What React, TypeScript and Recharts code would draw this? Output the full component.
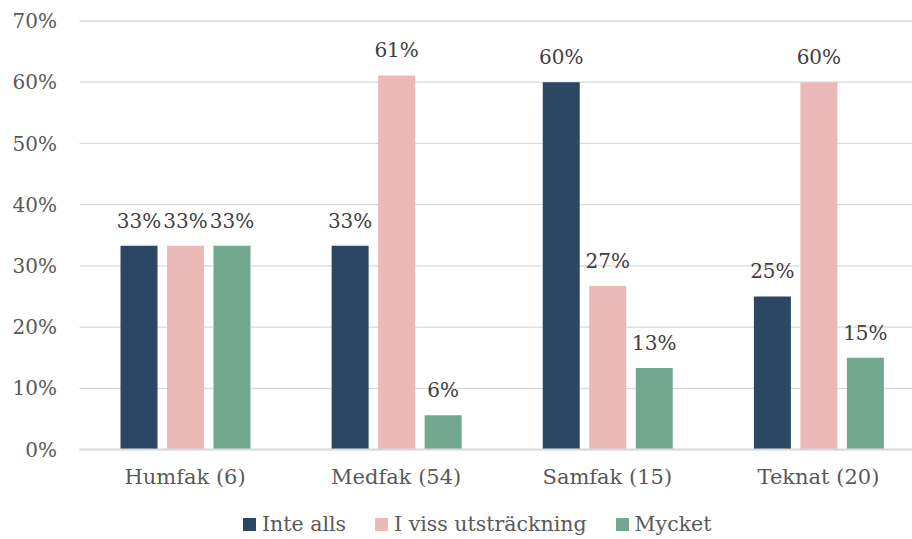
import React from 'react'
import { BarChart, Bar, XAxis, YAxis, CartesianGrid, LabelList, Legend } from 'recharts'

const categories = ['Humfak (6)', 'Medfak (54)', 'Samfak (15)', 'Teknat (20)']
const inteAlls = [33.3, 33.3, 60.0, 25.0]
const iVissUtstrackning = [33.3, 61.1, 26.7, 60.0]
const mycket = [33.3, 5.6, 13.3, 15.0]
const yTicks = [0, 10, 20, 30, 40, 50, 60, 70]

const series = [
  { key: 'inte', name: 'Inte alls', color: '#2b4764', values: inteAlls },
  { key: 'viss', name: 'I viss utsträckning', color: '#eab9b8', values: iVissUtstrackning },
  { key: 'mycket', name: 'Mycket', color: '#72a88f', values: mycket },
]

const data = categories.map((c, i) => ({
  name: c,
  inte: inteAlls[i],
  viss: iVissUtstrackning[i],
  mycket: mycket[i],
}))

const font = '"DejaVu Serif", serif'

function LegendContent() {
  return (
    <div style={{ display: 'flex', alignItems: 'center', fontFamily: font, fontSize: 20.5, color: '#595959', paddingLeft: 243, lineHeight: '24px' }}>
      {series.map(s => (
        <div key={s.key} style={{ display: 'flex', alignItems: 'center', marginRight: 29 }}>
          <span style={{ width: 13, height: 13, background: s.color, display: 'inline-block', marginRight: 6 }} />
          <span>{s.name}</span>
        </div>
      ))}
    </div>
  )
}

export default function App() {
  return (
    <div style={{ position: 'absolute', left: 0, top: 0, width: 912, height: 539, overflow: 'hidden', background: '#fff' }}>
      <BarChart width={924} height={560} data={data} margin={{ top: 21, right: 0, left: 0, bottom: 70.5 }}
        barSize={37} barGap={9.5}>
        <CartesianGrid vertical={false} stroke="#d9d9d9" strokeWidth={1.3} />
        <XAxis dataKey="name" height={40} tickLine={false} tickMargin={14}
          axisLine={{ stroke: '#d9d9d9', strokeWidth: 2 }}
          tick={{ fill: '#595959', fontSize: 21, fontFamily: font }} />
        <YAxis width={79.5} domain={[0, 70]} ticks={yTicks} axisLine={false} tickLine={false} tickMargin={16.5}
          tickFormatter={v => `${v}%`} tick={{ fill: '#595959', fontSize: 20, fontFamily: font }} />
        <Legend verticalAlign="middle" content={<LegendContent />} wrapperStyle={{ top: 512, left: 0, width: 924 }} />
        {series.map(s => (
          <Bar key={s.key} dataKey={s.key} name={s.name} fill={s.color} isAnimationActive={false}>
            <LabelList dataKey={s.key} position="top" offset={18}
              formatter={(v: any) => `${Math.round(Number(v))}%`}
              style={{ fill: '#404040', fontSize: 20, fontFamily: font }} />
          </Bar>
        ))}
      </BarChart>
    </div>
  )
}
